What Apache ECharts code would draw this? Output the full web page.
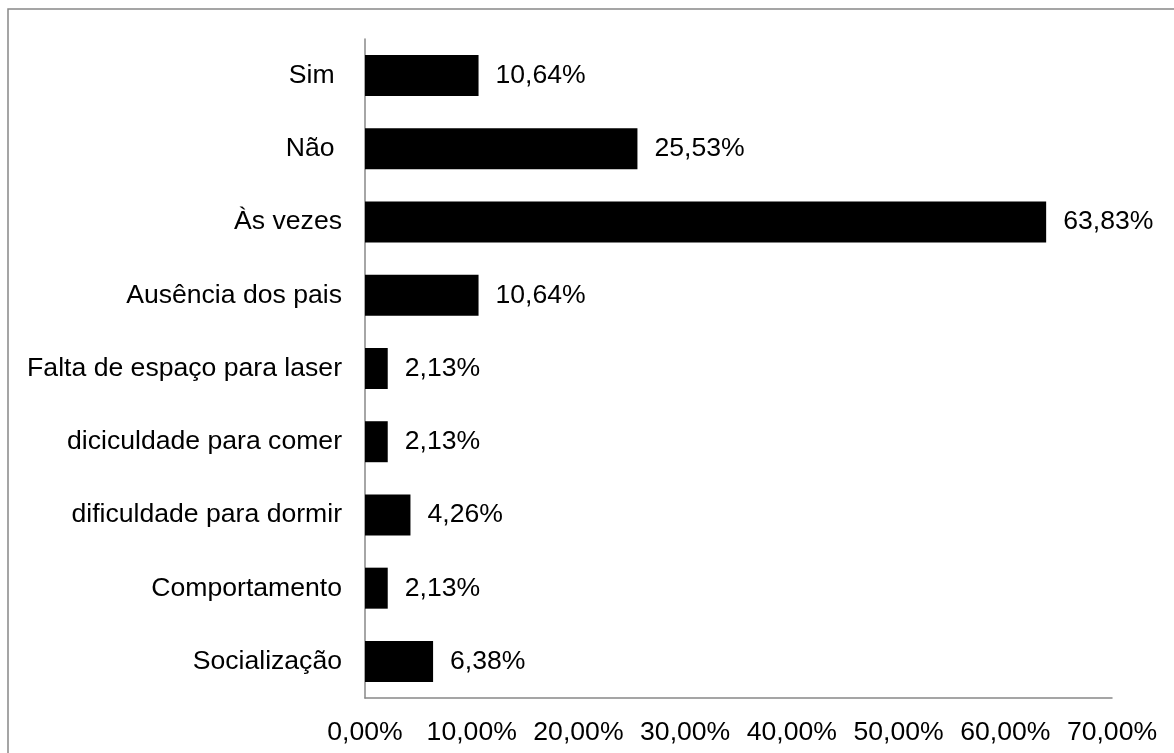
<!DOCTYPE html>
<html>
<head>
<meta charset="utf-8">
<script src="https://cdn.jsdelivr.net/npm/echarts@6/dist/echarts.min.js"></script>
<style>
html,body{margin:0;padding:0;background:#fff;}
#chart{width:1174px;height:753px;}
</style>
</head>
<body>
<div id="chart"></div>
<script>
const categories = ["Sim ", "Não ", "Às vezes", "Ausência dos pais", "Falta de espaço para laser", "diciculdade para comer", "dificuldade para dormir", "Comportamento", "Socialização"];
const values = [10.64, 25.53, 63.83, 10.64, 2.13, 2.13, 4.26, 2.13, 6.38];
const xTicks = [0, 10, 20, 30, 40, 50, 60, 70];

const fmt = v => v.toFixed(2).replace('.', ',') + '%';
const FONT = '"Liberation Sans", Arial, sans-serif';
const FS = 26.6;

const chart = echarts.init(document.getElementById('chart'), null, {renderer: 'canvas'});
chart.setOption({
  animation: false,
  backgroundColor: '#fff',
  textStyle: {fontFamily: FONT},
  graphic: [{
    type: 'rect',
    shape: {x: 8, y: 9, width: 1300, height: 900},
    style: {fill: 'none', stroke: '#888', lineWidth: 1.5},
    silent: true, z: -1
  }],
  grid: {left: 365, top: 39, right: 62, bottom: 55, containLabel: false},
  xAxis: {
    type: 'value',
    min: xTicks[0],
    max: xTicks[xTicks.length - 1],
    interval: 10,
    axisLine: {show: true, lineStyle: {color: '#888', width: 1.5}},
    axisTick: {show: false},
    splitLine: {show: false},
    axisLabel: {
      formatter: v => fmt(v),
      color: '#000', fontSize: FS, fontFamily: FONT, margin: 21
    }
  },
  yAxis: {
    type: 'category',
    data: categories,
    inverse: true,
    axisLine: {show: true, lineStyle: {color: '#888', width: 1.5}},
    axisTick: {show: false},
    axisLabel: {color: '#000', fontSize: FS, fontFamily: FONT, margin: 23}
  },
  series: [{
    type: 'bar',
    data: values,
    barWidth: 41,
    itemStyle: {color: '#000'},
    label: {
      show: true,
      position: 'right',
      distance: 17,
      formatter: p => fmt(p.value),
      color: '#000', fontSize: FS, fontFamily: FONT
    }
  }]
});
</script>
</body>
</html>
